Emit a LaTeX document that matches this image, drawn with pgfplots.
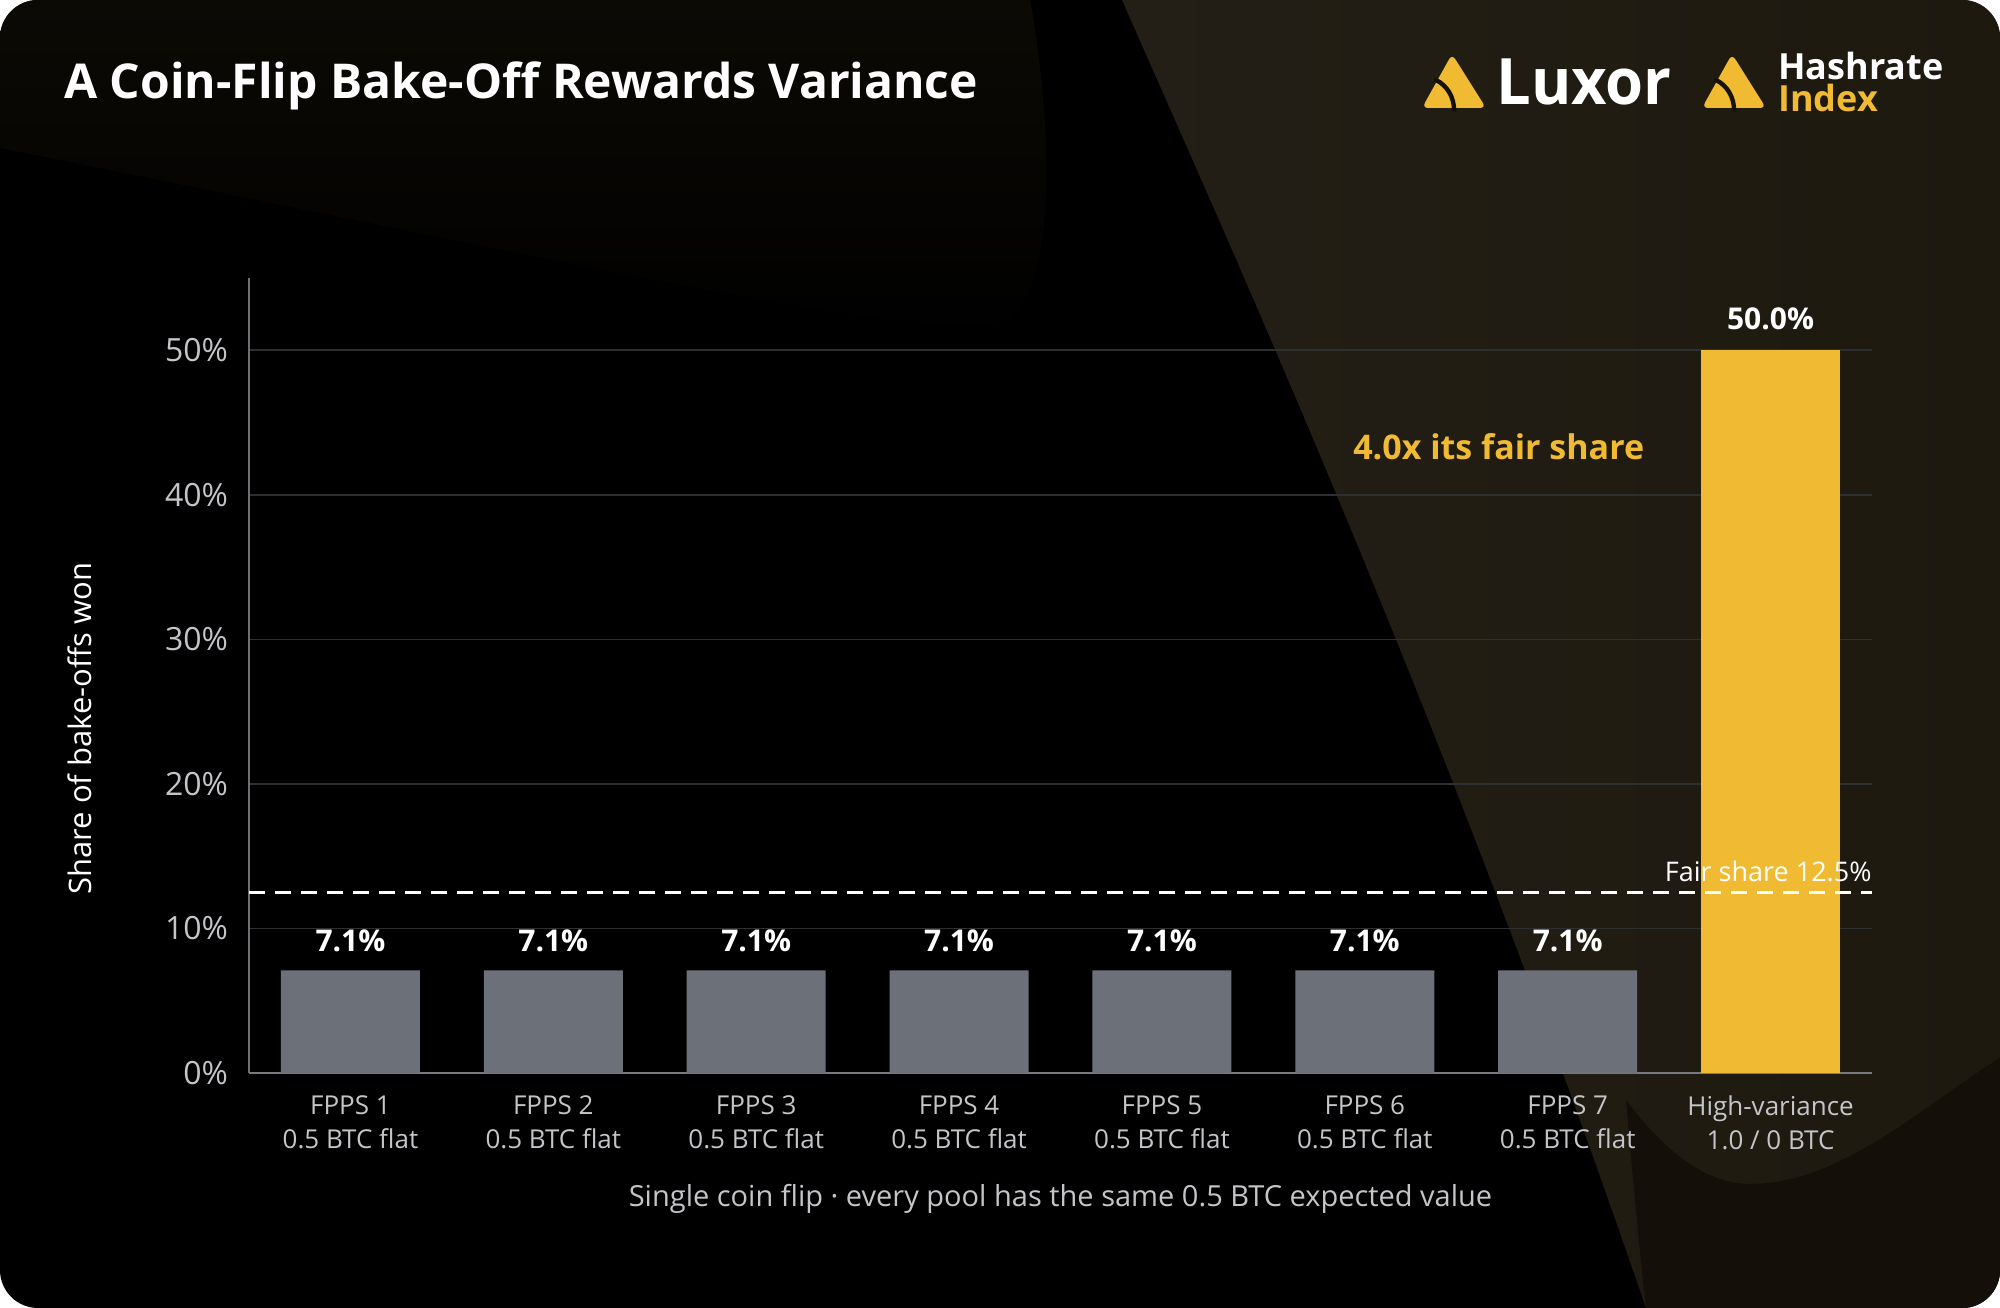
\documentclass[border=0pt]{standalone}
\usepackage{pgfplots}
\pgfplotsset{compat=1.18}
\usepackage{fontspec}
\setmainfont{Open Sans}
\definecolor{barg}{HTML}{6B7079}
\definecolor{bary}{HTML}{F0BB33}
\definecolor{gridc}{HTML}{2E2F33}
\definecolor{tickc}{HTML}{C4C5C9}
\definecolor{axc}{HTML}{6E7075}
\begin{document}
\begin{tikzpicture}
\fill[white] (0,0) rectangle (1000bp,654bp);
\begin{scope}
\clip[rounded corners=19bp] (0,0) rectangle (1000bp,654bp);
\fill[black] (0,0) rectangle (1000bp,654bp);
\shade[top color={rgb,255:red,12;green,10;blue,5}, bottom color=black] (0,654bp) -- (0,580bp) .. controls (300bp,520bp) and (470bp,480bp) .. (505bp,495bp) .. controls (530bp,515bp) and (525bp,600bp) .. (515bp,654bp) -- cycle;
\shade[left color={rgb,255:red,36;green,31;blue,22}, right color={rgb,255:red,30;green,25;blue,15}] (561bp,654bp) .. controls (620bp,520bp) and (720bp,300bp) .. (823bp,0bp) -- (1000bp,0bp) -- (1000bp,654bp) -- cycle;
\fill[color={rgb,255:red,20;green,15;blue,8}] (813bp,104bp) .. controls (835bp,75bp) and (855bp,62bp) .. (875bp,62bp) .. controls (920bp,62bp) and (960bp,100bp) .. (1000bp,125bp) -- (1000bp,0bp) -- (823bp,0bp) .. controls (819bp,35bp) and (816bp,70bp) .. (813bp,104bp) -- cycle;
\end{scope}
% title
\node[anchor=west, text=white, font=\fontsize{24bp}{28bp}\selectfont\bfseries, inner sep=0pt] at (32bp,611bp) {A Coin-Flip Bake-Off Rewards Variance};
% Luxor logo
\fill[bary, rounded corners=3bp] (711bp,600bp) -- (726bp,627bp) -- (743bp,600bp) -- cycle;
\draw[color={rgb,255:red,20;green,17;blue,11}, line width=2.2bp, line cap=round] (718bp,614bp) .. controls (724bp,611bp) and (727bp,605bp) .. (727bp,599bp);
\node[anchor=west, text=white, font=\fontsize{32bp}{36bp}\selectfont\bfseries, inner sep=0pt, xscale=0.96] at (748bp,613bp) {Luxor};
% Hashrate index logo
\fill[bary, rounded corners=3bp] (851bp,600bp) -- (866bp,627bp) -- (883bp,600bp) -- cycle;
\draw[color={rgb,255:red,22;green,19;blue,12}, line width=2.2bp, line cap=round] (858bp,614bp) .. controls (864bp,611bp) and (867bp,605bp) .. (867bp,599bp);
\node[anchor=west, text=white, font=\fontsize{18bp}{19bp}\selectfont\bfseries, inner sep=0pt] at (889bp,621bp) {Hashrate};
\node[anchor=west, text=bary, font=\fontsize{18bp}{19bp}\selectfont\bfseries, inner sep=0pt] at (889bp,605bp) {Index};
\begin{axis}[
  at={(124.5bp,117.5bp)}, anchor=south west,
  scale only axis, width=811.5bp, height=397.5bp,
  xmin=-0.5, xmax=7.5, ymin=0, ymax=55,
  axis x line=bottom, axis y line=left,
  axis line style={-, axc, line width=1bp},
  x axis line style={color={rgb,255:red,120;green,122;blue,127}},
  ytick={0,10,20,30,40,50},
  yticklabel={\pgfmathprintnumber{\tick}\%},
  xtick={0,1,2,3,4,5,6,7},
  xticklabels={{FPPS 1\\0.5 BTC flat},{FPPS 2\\0.5 BTC flat},{FPPS 3\\0.5 BTC flat},{FPPS 4\\0.5 BTC flat},{FPPS 5\\0.5 BTC flat},{FPPS 6\\0.5 BTC flat},{FPPS 7\\0.5 BTC flat},{High-variance\\1.0 / 0 BTC}},
  xticklabel style={align=center, text=tickc, font=\fontsize{13bp}{17bp}\selectfont, yshift=-8bp},
  yticklabel style={text=tickc, font=\fontsize{16bp}{18bp}\selectfont, xshift=-7bp},
  /pgf/number format/assume math mode=true,
  major tick length=0pt,
  ymajorgrids, grid style={gridc, line width=0.8bp},
  ylabel={Share of bake-offs won},
  ylabel style={text=white, font=\fontsize{15.5bp}{18bp}\selectfont, at={(axis description cs:-0.104,0.433)}, anchor=center},
  xlabel={Single coin flip · every pool has the same 0.5 BTC expected value},
  xlabel style={text=tickc, font=\fontsize{14.5bp}{17bp}\selectfont, yshift=-10bp},
  clip=false,
]
\addplot[ybar, bar width=69.5bp, bar shift=0pt, fill=barg, draw=none,
  nodes near coords={\pgfmathprintnumber[fixed,precision=1,fixed zerofill]{\pgfplotspointmeta}\%},
  every node near coord/.style={text=white, font=\fontsize{15bp}{17bp}\selectfont\bfseries, anchor=south, inner sep=0pt, yshift=9bp}]
  coordinates {(0,7.1) (1,7.1) (2,7.1) (3,7.1) (4,7.1) (5,7.1) (6,7.1)};
\addplot[ybar, bar width=69.5bp, bar shift=0pt, fill=bary, draw=none,
  nodes near coords={\pgfmathprintnumber[fixed,precision=1,fixed zerofill]{\pgfplotspointmeta}\%},
  every node near coord/.style={text=white, font=\fontsize{15bp}{17bp}\selectfont\bfseries, anchor=south, inner sep=0pt, yshift=10bp}]
  coordinates {(7,50.0)};
\addplot[white, line width=1.5bp, dash pattern=on 8bp off 5bp] coordinates {(-0.5,12.5) (7.5,12.5)};
\node[anchor=south east, text=white, font=\fontsize{13.5bp}{16bp}\selectfont, inner sep=0pt] at (axis cs:7.5,13.2) {Fair share 12.5\%};
\node[text=bary, font=\fontsize{17bp}{20bp}\selectfont\bfseries, inner sep=0pt] at (axis cs:5.66,43.3) {4.0x its fair share};
\end{axis}
\end{tikzpicture}
\end{document}
